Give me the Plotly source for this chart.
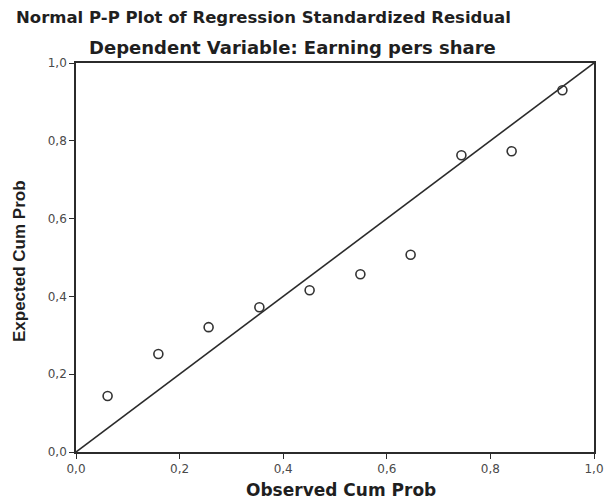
import plotly.graph_objects as go

observed = [0.061, 0.159, 0.256, 0.354, 0.451, 0.549, 0.646, 0.744, 0.841, 0.939]
expected = [0.144, 0.252, 0.321, 0.372, 0.416, 0.457, 0.507, 0.763, 0.773, 0.930]
tick_vals = [0.0, 0.2, 0.4, 0.6, 0.8, 1.0]
tick_text = ["0,0", "0,2", "0,4", "0,6", "0,8", "1,0"]
ref_line = [0.0, 1.0]

BOLD = "DejaVu Sans, Liberation Sans, Arial, sans-serif"
ARIAL = "Liberation Sans, Arial, sans-serif"
DARK = "#2b2b2b"
TXT = "#1f1f1f"

fig = go.Figure()
fig.add_trace(go.Scatter(x=ref_line, y=ref_line, mode="lines",
                         line=dict(color=DARK, width=1.6), hoverinfo="skip"))
fig.add_trace(go.Scatter(x=observed, y=expected, mode="markers",
                         marker=dict(symbol="circle-open", size=9,
                                     color="#333333", line=dict(width=1.6))))

axis_common = dict(range=[0, 1], tickvals=tick_vals, ticktext=tick_text,
                   showgrid=False, zeroline=False, showline=True, mirror=True,
                   linecolor=DARK, linewidth=1.6, ticks="outside", ticklen=5,
                   tickwidth=1.4, tickcolor=DARK, automargin=False,
                   tickfont=dict(family=BOLD, size=12, color="#4a4a4a"))

# the page body adds an 8px offset, so the figure is sized to fit the window
fig.update_layout(
    width=597, height=493,
    margin=dict(l=68, r=11, t=55, b=49),
    paper_bgcolor="white", plot_bgcolor="white",
    showlegend=False,
    xaxis=dict(**axis_common),
    yaxis=dict(**axis_common),
    annotations=[
        dict(text="<b>Normal P-P Plot of Regression Standardized Residual</b>",
             xref="paper", yref="paper", x=-0.1197, y=1.116, xanchor="left", yanchor="middle",
             showarrow=False, font=dict(family=BOLD, size=16.5, color=TXT)),
        dict(text="<b>Dependent Variable: Earning pers share</b>",
             xref="paper", yref="paper", x=0.417, y=1.039, xanchor="center", yanchor="middle",
             showarrow=False, font=dict(family=BOLD, size=18, color=TXT)),
        dict(text="<b>Observed Cum Prob</b>",
             xref="paper", yref="paper", x=0.512, y=-0.097, xanchor="center", yanchor="middle",
             showarrow=False, font=dict(family=BOLD, size=17, color=TXT)),
        dict(text="<b>Expected Cum Prob</b>", textangle=-90,
             xref="paper", yref="paper", x=-0.11, y=0.491, xanchor="center", yanchor="middle",
             showarrow=False, font=dict(family=ARIAL, size=17, color=TXT)),
    ],
)

fig.write_html("out.html")
